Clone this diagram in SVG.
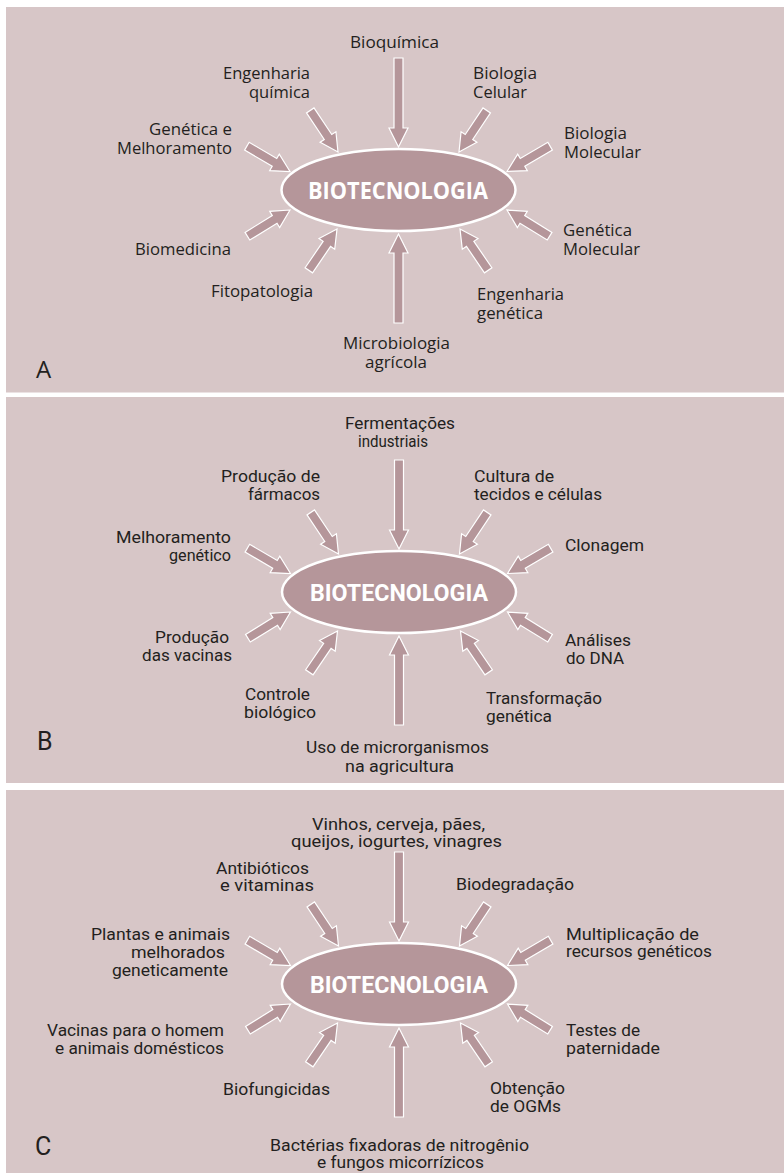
<svg xmlns="http://www.w3.org/2000/svg" xmlns:xlink="http://www.w3.org/1999/xlink" width="784" height="1173" viewBox="0 0 784 1173">
<style>
.bg{fill:#ffffff}
.panel{fill:#d7c6c7}
.hub{fill:#b5969a;stroke:#ffffff;stroke-width:2.5}
.arr{fill:#b5969a;stroke:#ffffff;stroke-width:1.2;stroke-linejoin:miter}
.a{font-family:"Open Sans","Noto Sans","Liberation Sans",sans-serif;font-size:17px;fill:#231f20}
.c{font-family:"Liberation Sans Narrow","Roboto","Liberation Sans",sans-serif;font-size:17px;fill:#231f20}
.ta{font-family:"Open Sans","Noto Sans","Liberation Sans",sans-serif;font-size:23px;font-weight:bold;fill:#ffffff}
.tc{font-family:"Liberation Sans Narrow","Roboto","Liberation Sans",sans-serif;font-size:23px;font-weight:bold;fill:#ffffff}
.tagA{font-family:"Open Sans","Noto Sans","Liberation Sans",sans-serif;font-size:24px;fill:#231f20}
.tagC{font-family:"Liberation Sans Narrow","Roboto","Liberation Sans",sans-serif;font-size:25px;fill:#231f20}
</style>
<defs>
<path id="sa" class="arr" d="M0,0 L-18,-9.5 L-18,-4.5 L-50,-4.5 L-50,4.5 L-18,4.5 L-18,9.5 Z"/>
<path id="la" class="arr" d="M0,0 L-19,-9.5 L-19,-4.5 L-89,-4.5 L-89,4.5 L-19,4.5 L-19,9.5 Z"/>
</defs>
<rect class="bg" x="0" y="0" width="784" height="1173"/>
<g id="panels">
<rect class="panel" x="6" y="7" width="778" height="385.5"/>
<rect class="panel" x="6" y="397" width="778" height="386"/>
<rect class="panel" x="6" y="790" width="778" height="383"/>
</g>
<g id="connectors">
<g id="arrows-A">
<use xlink:href="#la" href="#la" transform="translate(398.5,147) rotate(90)"/>
<use xlink:href="#la" href="#la" transform="translate(398.5,234) rotate(-90)"/>
<use xlink:href="#sa" href="#sa" transform="translate(338,152) rotate(56.3)"/>
<use xlink:href="#sa" href="#sa" transform="translate(459,152) rotate(123.7)"/>
<use xlink:href="#sa" href="#sa" transform="translate(290,171.5) rotate(30.4)"/>
<use xlink:href="#sa" href="#sa" transform="translate(507,171.5) rotate(149.6)"/>
<use xlink:href="#sa" href="#sa" transform="translate(290,210) rotate(-31.6)"/>
<use xlink:href="#sa" href="#sa" transform="translate(507,210) rotate(-148.4)"/>
<use xlink:href="#sa" href="#sa" transform="translate(337,229) rotate(-55.7)"/>
<use xlink:href="#sa" href="#sa" transform="translate(460,229) rotate(-124.3)"/>
</g>
<g id="arrows-B" transform="translate(0.5,402)">
<use xlink:href="#la" href="#la" transform="translate(398.5,147) rotate(90)"/>
<use xlink:href="#la" href="#la" transform="translate(398.5,234) rotate(-90)"/>
<use xlink:href="#sa" href="#sa" transform="translate(338,152) rotate(56.3)"/>
<use xlink:href="#sa" href="#sa" transform="translate(459,152) rotate(123.7)"/>
<use xlink:href="#sa" href="#sa" transform="translate(290,171.5) rotate(30.4)"/>
<use xlink:href="#sa" href="#sa" transform="translate(507,171.5) rotate(149.6)"/>
<use xlink:href="#sa" href="#sa" transform="translate(290,210) rotate(-31.6)"/>
<use xlink:href="#sa" href="#sa" transform="translate(507,210) rotate(-148.4)"/>
<use xlink:href="#sa" href="#sa" transform="translate(337,229) rotate(-55.7)"/>
<use xlink:href="#sa" href="#sa" transform="translate(460,229) rotate(-124.3)"/>
</g>
<g id="arrows-C" transform="translate(0.5,794)">
<use xlink:href="#la" href="#la" transform="translate(398.5,147) rotate(90)"/>
<use xlink:href="#la" href="#la" transform="translate(398.5,234) rotate(-90)"/>
<use xlink:href="#sa" href="#sa" transform="translate(338,152) rotate(56.3)"/>
<use xlink:href="#sa" href="#sa" transform="translate(459,152) rotate(123.7)"/>
<use xlink:href="#sa" href="#sa" transform="translate(290,171.5) rotate(30.4)"/>
<use xlink:href="#sa" href="#sa" transform="translate(507,171.5) rotate(149.6)"/>
<use xlink:href="#sa" href="#sa" transform="translate(290,210) rotate(-31.6)"/>
<use xlink:href="#sa" href="#sa" transform="translate(507,210) rotate(-148.4)"/>
<use xlink:href="#sa" href="#sa" transform="translate(337,229) rotate(-55.7)"/>
<use xlink:href="#sa" href="#sa" transform="translate(460,229) rotate(-124.3)"/>
</g>
</g>

<!-- Panel A -->
<g id="hub-A"><ellipse class="hub" cx="398.5" cy="190" rx="117" ry="41"/><text class="ta" x="308" y="198.5" textLength="180" lengthAdjust="spacingAndGlyphs">BIOTECNOLOGIA</text></g>
<g id="a-bioquimica"><text class="a" x="350" y="48" textLength="89" lengthAdjust="spacingAndGlyphs">Bioquímica</text></g>
<g id="a-eng-quimica"><text class="a" x="223" y="79" textLength="87" lengthAdjust="spacingAndGlyphs">Engenharia</text><text class="a" x="249" y="98" textLength="61" lengthAdjust="spacingAndGlyphs">química</text></g>
<g id="a-bio-celular"><text class="a" x="473" y="79" textLength="64" lengthAdjust="spacingAndGlyphs">Biologia</text><text class="a" x="473" y="98" textLength="54" lengthAdjust="spacingAndGlyphs">Celular</text></g>
<g id="a-gen-melhor"><text class="a" x="149" y="135" textLength="83" lengthAdjust="spacingAndGlyphs">Genética e</text><text class="a" x="117" y="154" textLength="115" lengthAdjust="spacingAndGlyphs">Melhoramento</text></g>
<g id="a-bio-molec"><text class="a" x="564" y="139" textLength="63" lengthAdjust="spacingAndGlyphs">Biologia</text><text class="a" x="564" y="158" textLength="77" lengthAdjust="spacingAndGlyphs">Molecular</text></g>
<g id="a-biomedicina"><text class="a" x="135" y="255" textLength="96" lengthAdjust="spacingAndGlyphs">Biomedicina</text></g>
<g id="a-fitopatologia"><text class="a" x="211" y="297" textLength="102" lengthAdjust="spacingAndGlyphs">Fitopatologia</text></g>
<g id="a-gen-molec"><text class="a" x="563" y="236" textLength="69" lengthAdjust="spacingAndGlyphs">Genética</text><text class="a" x="563" y="255" textLength="77" lengthAdjust="spacingAndGlyphs">Molecular</text></g>
<g id="a-eng-genetica"><text class="a" x="477" y="300" textLength="87" lengthAdjust="spacingAndGlyphs">Engenharia</text><text class="a" x="477" y="319" textLength="66" lengthAdjust="spacingAndGlyphs">genética</text></g>
<g id="a-microbio"><text class="a" x="343" y="349" textLength="107" lengthAdjust="spacingAndGlyphs">Microbiologia</text><text class="a" x="365" y="368" textLength="62" lengthAdjust="spacingAndGlyphs">agrícola</text></g>
<g id="tag-A"><text class="tagA" x="36" y="378">A</text></g>

<!-- Panel B -->
<g id="hub-B"><ellipse class="hub" cx="399" cy="592" rx="117" ry="41"/><text class="tc" x="310" y="601" textLength="178" lengthAdjust="spacingAndGlyphs">BIOTECNOLOGIA</text></g>
<g id="b-ferment"><text class="c" x="345" y="429" textLength="110" lengthAdjust="spacingAndGlyphs">Fermentações</text><text class="c" x="358" y="447" textLength="70" lengthAdjust="spacingAndGlyphs">industriais</text></g>
<g id="b-farmacos"><text class="c" x="221" y="482" textLength="99" lengthAdjust="spacingAndGlyphs">Produção de</text><text class="c" x="248" y="500" textLength="72" lengthAdjust="spacingAndGlyphs">fármacos</text></g>
<g id="b-cultura"><text class="c" x="474" y="482" textLength="80" lengthAdjust="spacingAndGlyphs">Cultura de</text><text class="c" x="474" y="500" textLength="128" lengthAdjust="spacingAndGlyphs">tecidos e células</text></g>
<g id="b-melhor"><text class="c" x="116" y="543" textLength="115" lengthAdjust="spacingAndGlyphs">Melhoramento</text><text class="c" x="169" y="561" textLength="62" lengthAdjust="spacingAndGlyphs">genético</text></g>
<g id="b-clonagem"><text class="c" x="565" y="551" textLength="79" lengthAdjust="spacingAndGlyphs">Clonagem</text></g>
<g id="b-vacinas"><text class="c" x="155" y="643" textLength="74" lengthAdjust="spacingAndGlyphs">Produção</text><text class="c" x="142" y="661" textLength="90" lengthAdjust="spacingAndGlyphs">das vacinas</text></g>
<g id="b-controle"><text class="c" x="245" y="700" textLength="65" lengthAdjust="spacingAndGlyphs">Controle</text><text class="c" x="244" y="718" textLength="72" lengthAdjust="spacingAndGlyphs">biológico</text></g>
<g id="b-uso"><text class="c" x="306" y="753" textLength="183" lengthAdjust="spacingAndGlyphs">Uso de microrganismos</text><text class="c" x="345" y="772" textLength="109" lengthAdjust="spacingAndGlyphs">na agricultura</text></g>
<g id="b-analises"><text class="c" x="565" y="646" textLength="66" lengthAdjust="spacingAndGlyphs">Análises</text><text class="c" x="566" y="664" textLength="58" lengthAdjust="spacingAndGlyphs">do DNA</text></g>
<g id="b-transf"><text class="c" x="486" y="704" textLength="116" lengthAdjust="spacingAndGlyphs">Transformação</text><text class="c" x="486" y="722" textLength="66" lengthAdjust="spacingAndGlyphs">genética</text></g>
<g id="tag-B"><text class="tagC" x="37" y="750">B</text></g>

<!-- Panel C -->
<g id="hub-C"><ellipse class="hub" cx="399" cy="984" rx="117" ry="41"/><text class="tc" x="310" y="993" textLength="178" lengthAdjust="spacingAndGlyphs">BIOTECNOLOGIA</text></g>
<g id="c-vinhos"><text class="c" x="312" y="830" textLength="173" lengthAdjust="spacingAndGlyphs">Vinhos, cerveja, pães,</text><text class="c" x="291" y="847" textLength="211" lengthAdjust="spacingAndGlyphs">queijos, iogurtes, vinagres</text></g>
<g id="c-antibio"><text class="c" x="216" y="874" textLength="93" lengthAdjust="spacingAndGlyphs">Antibióticos</text><text class="c" x="220" y="891" textLength="94" lengthAdjust="spacingAndGlyphs">e vitaminas</text></g>
<g id="c-biodeg"><text class="c" x="456" y="890" textLength="118" lengthAdjust="spacingAndGlyphs">Biodegradação</text></g>
<g id="c-plantas"><text class="c" x="91" y="940" textLength="139" lengthAdjust="spacingAndGlyphs">Plantas e animais</text><text class="c" x="131" y="958" textLength="94" lengthAdjust="spacingAndGlyphs">melhorados</text><text class="c" x="112" y="976" textLength="116" lengthAdjust="spacingAndGlyphs">geneticamente</text></g>
<g id="c-multi"><text class="c" x="566" y="940" textLength="133" lengthAdjust="spacingAndGlyphs">Multiplicação de</text><text class="c" x="566" y="957" textLength="146" lengthAdjust="spacingAndGlyphs">recursos genéticos</text></g>
<g id="c-vacinas"><text class="c" x="47" y="1036" textLength="177" lengthAdjust="spacingAndGlyphs">Vacinas para o homem</text><text class="c" x="55" y="1054" textLength="169" lengthAdjust="spacingAndGlyphs">e animais domésticos</text></g>
<g id="c-biofung"><text class="c" x="223" y="1095" textLength="107" lengthAdjust="spacingAndGlyphs">Biofungicidas</text></g>
<g id="c-testes"><text class="c" x="566" y="1036" textLength="74" lengthAdjust="spacingAndGlyphs">Testes de</text><text class="c" x="566" y="1054" textLength="94" lengthAdjust="spacingAndGlyphs">paternidade</text></g>
<g id="c-ogm"><text class="c" x="490" y="1094" textLength="75" lengthAdjust="spacingAndGlyphs">Obtenção</text><text class="c" x="490" y="1112" textLength="71" lengthAdjust="spacingAndGlyphs">de OGMs</text></g>
<g id="c-bacterias"><text class="c" x="270" y="1151" textLength="259" lengthAdjust="spacingAndGlyphs">Bactérias fixadoras de nitrogênio</text><text class="c" x="317" y="1168" textLength="167" lengthAdjust="spacingAndGlyphs">e fungos micorrízicos</text></g>
<g id="tag-C"><text class="tagC" x="35" y="1155">C</text></g>
</svg>
